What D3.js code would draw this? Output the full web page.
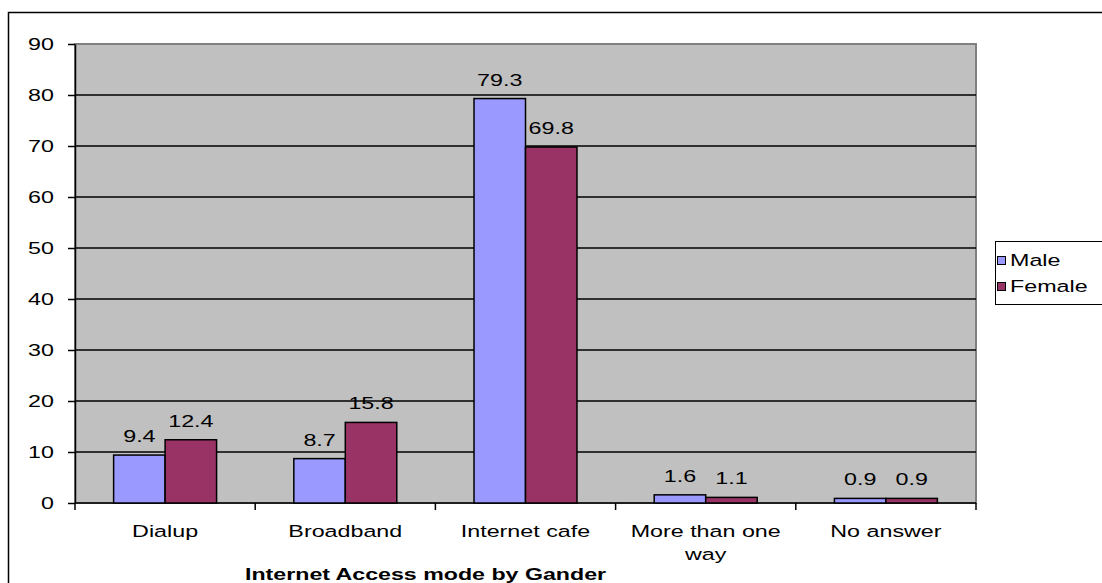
<!DOCTYPE html>
<html><head><meta charset="utf-8">
<script src="https://cdn.jsdelivr.net/npm/d3@7/dist/d3.min.js"></script>
<style>body{margin:0;background:#fff}svg{display:block;font-family:"Liberation Sans",Arial,sans-serif}</style>
</head><body>
<script>
const categories = ["Dialup","Broadband","Internet cafe","More than one way","No answer"];
const categoryLines = [["Dialup"],["Broadband"],["Internet cafe"],["More than one","way"],["No answer"]];
const seriesNames = ["Male","Female"];
const maleValues = [9.4, 8.7, 79.3, 1.6, 0.9];
const femaleValues = [12.4, 15.8, 69.8, 1.1, 0.9];
const yTicks = [0,10,20,30,40,50,60,70,80,90];
const colors = ["#9999FF","#993366"];
const title = "Internet Access mode by Gander";

(function(){
const W=1102,H=583, SX=1.37;
const svg=d3.select("body").append("svg").attr("width",W).attr("height",H);
svg.append("rect").attr("x",8.5).attr("y",12.5).attr("width",1110).attr("height",600)
  .attr("fill","#fff").attr("stroke","#000").attr("stroke-width",1.5);

// text with horizontal stretch
function stext(g,x,y,txt,opts){
  opts=opts||{};
  const t=g.append("text").attr("transform",`translate(${x},${y}) scale(${opts.sx||SX},1)`)
    .attr("text-anchor",opts.anchor||"middle").attr("font-size",opts.size||17)
    .attr("font-weight",opts.weight||"normal").attr("fill","#000").text(txt);
  return t;
}

const pL=75,pR=976,pT=44,pB=503;
const x=d3.scaleBand().domain(categories).range([pL,pR]).paddingInner(0).paddingOuter(0);
const y=d3.scaleLinear().domain([0,90]).range([pB,pT]);
const barW = x.bandwidth()/3.5;
const xs=d3.scaleBand().domain(seriesNames).range([0,barW*2]);

svg.append("rect").attr("x",pL).attr("y",pT).attr("width",pR-pL).attr("height",pB-pT)
  .attr("fill","#C0C0C0").attr("stroke","#808080").attr("stroke-width",2);

svg.append("g").selectAll("line").data(yTicks.filter(d=>d>0&&d<90)).join("line")
  .attr("x1",pL).attr("x2",pR).attr("y1",d=>y(d)).attr("y2",d=>y(d))
  .attr("stroke","#000").attr("stroke-width",1.5);

const ya=svg.append("g").attr("transform",`translate(${pL},0)`)
  .call(d3.axisLeft(y).tickValues(yTicks).tickSize(7).tickPadding(13).tickSizeOuter(0));
ya.select(".domain").attr("stroke","#000").attr("stroke-width",1.5);
ya.selectAll(".tick line").attr("stroke","#000").attr("stroke-width",1.5);
ya.selectAll(".tick text").attr("font-size",17).attr("fill","#000")
  .attr("font-family","Liberation Sans, Arial, sans-serif")
  .attr("x",-21/SX).attr("transform",`scale(${SX},1)`);

const xa=svg.append("g").attr("transform",`translate(0,${pB})`);
xa.append("line").attr("x1",pL).attr("x2",pR).attr("stroke","#000").attr("stroke-width",1.5);
const tickXs=categories.map(c=>x(c)).concat([pR]);
xa.selectAll("line.t").data(tickXs).join("line").attr("class","t")
  .attr("x1",d=>d).attr("x2",d=>d).attr("y1",0).attr("y2",7).attr("stroke","#000").attr("stroke-width",1.5);
categories.forEach((c,i)=>{
  const cx=x(c)+x.bandwidth()/2;
  categoryLines[i].forEach((ln,j)=>stext(xa,cx,34+j*23,ln));
});

const data=[];
categories.forEach((c,i)=>{
  data.push({c,s:"Male",v:maleValues[i]});
  data.push({c,s:"Female",v:femaleValues[i]});
});
const gx=c=>x(c)+(x.bandwidth()-barW*2)/2;
svg.append("g").selectAll("rect").data(data).join("rect")
  .attr("x",d=>gx(d.c)+xs(d.s)).attr("width",barW)
  .attr("y",d=>y(d.v)).attr("height",d=>y(0)-y(d.v))
  .attr("fill",d=>colors[seriesNames.indexOf(d.s)]).attr("stroke","#000").attr("stroke-width",1.5);
const lblG=svg.append("g");
data.forEach(d=>stext(lblG,gx(d.c)+xs(d.s)+barW/2,y(d.v)-13,d.v.toFixed(1)));

stext(svg,245,580,title,{anchor:"start",size:16,weight:"bold",sx:1.45});

const lg=svg.append("g");
lg.append("rect").attr("x",995.5).attr("y",241.5).attr("width",120).attr("height",63)
  .attr("fill","#fff").attr("stroke","#000").attr("stroke-width",1);
seriesNames.forEach((s,i)=>{
  lg.append("rect").attr("x",997.5).attr("y",256.5+i*26).attr("width",8).attr("height",8)
    .attr("fill",colors[i]).attr("stroke","#000").attr("stroke-width",1);
  stext(lg,1010,266+i*26,s,{anchor:"start"});
});
})();
</script>
</body></html>
